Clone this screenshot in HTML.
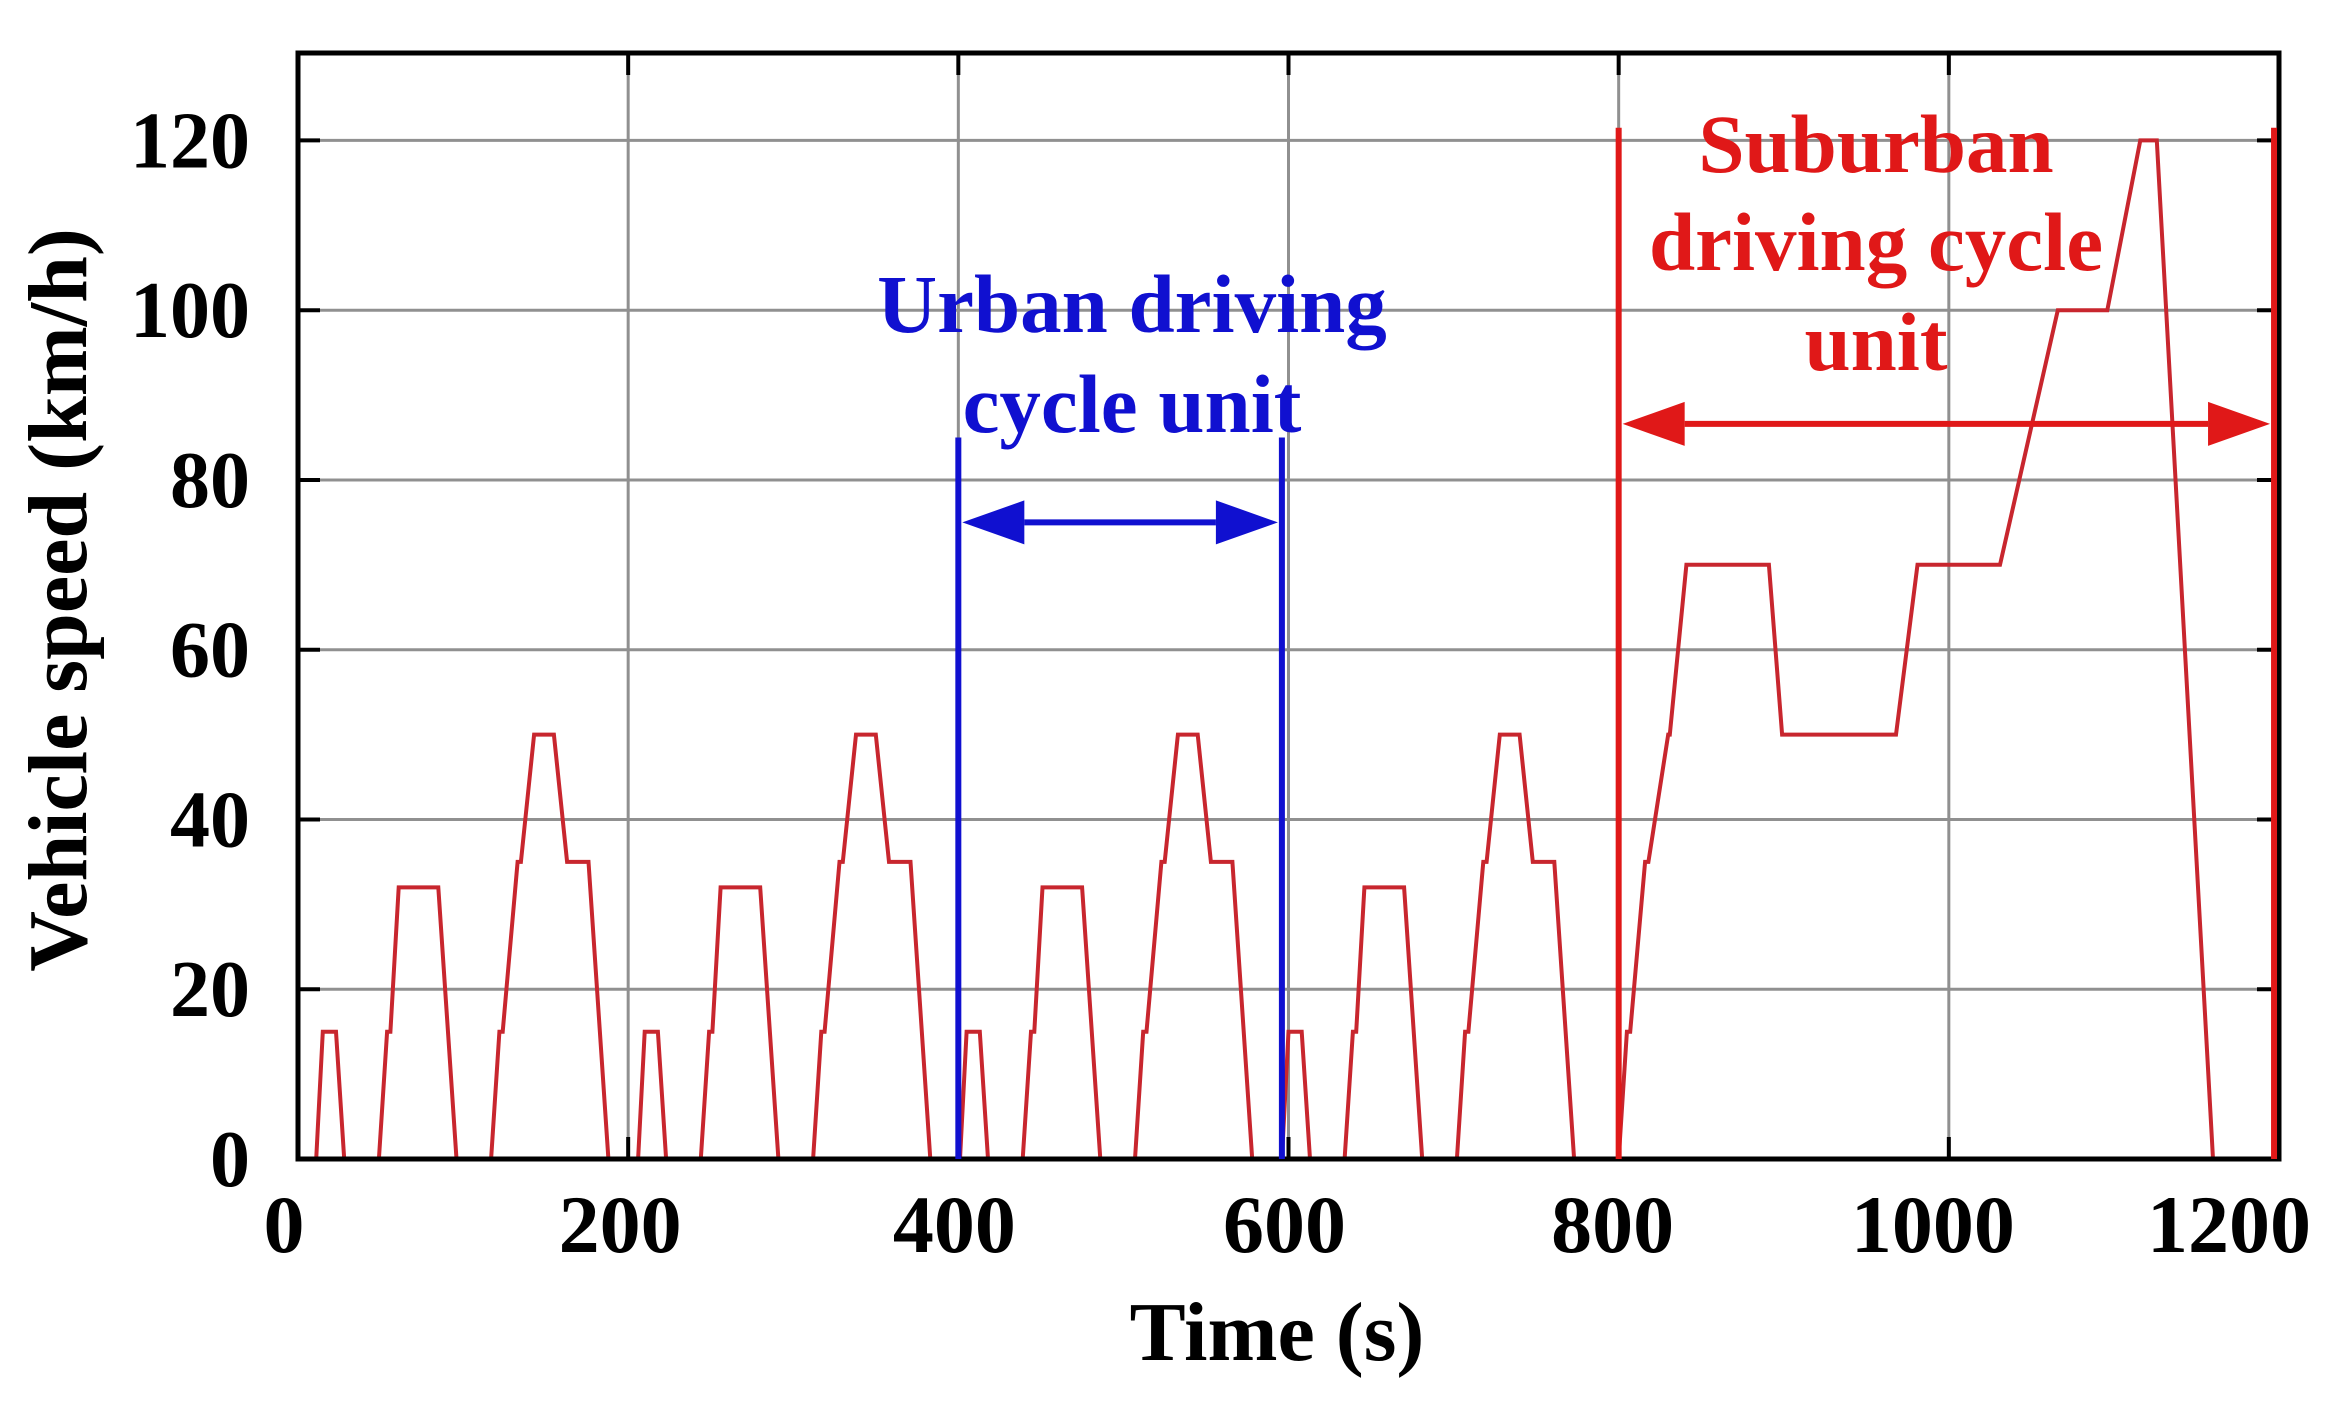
<!DOCTYPE html>
<html><head><meta charset="utf-8"><style>
html,body{margin:0;padding:0;background:#fff;}
svg{display:block;font-family:"Liberation Serif",serif;font-weight:bold;}
</style></head><body>
<svg width="2344" height="1423" viewBox="0 0 2344 1423">
<g id="grid"></g>
<g id="series"></g>
<g id="frame"></g>
<g id="ann"></g>
<g id="labels"></g>
</svg>
<script>
const xTicks=[0,200,400,600,800,1000,1200];
const yTicks=[0,20,40,60,80,100,120];
const urbanT=[0,11,15,23,28,49,54,56,61,85,96,117,122,124,133,135,143,155,163,176,188,195];
const urbanV=[0,0,15,15,0,0,15,15,32,32,0,0,15,15,35,35,50,50,35,35,0,0];
const urbanStarts=[0,195,390,585];
const suburbT=[0,20,25,27,36,38,50,51,61,111,119,188,201,251,286,316,336,346,380,400];
const suburbV=[0,0,15,15,35,35,50,50,70,70,50,50,70,70,100,100,120,120,0,0];
const suburbStart=780;
const L=298,R=2279,T=53,B=1159,XMAX=1200,YMAX=130.3;
const X=v=>L+(R-L)*v/XMAX;
const Y=v=>B-(B-T)*v/YMAX;
const NS='http://www.w3.org/2000/svg';
function mk(tag,attrs,parent){const e=document.createElementNS(NS,tag);for(const k in attrs)e.setAttribute(k,attrs[k]);document.getElementById(parent).appendChild(e);return e;}
xTicks.forEach((t,i)=>{
 if(t>0&&t<XMAX){const g=mk('line',{x1:X(t),x2:X(t),y1:T,y2:B,stroke:'#909090','stroke-width':3},'grid');
 
 }
 const tk=mk('line',{x1:X(t),x2:X(t),y1:B,y2:B-22,stroke:'#000','stroke-width':4},'frame');
 
 
 const tk2=mk('line',{x1:X(t),x2:X(t),y1:T,y2:T+22,stroke:'#000','stroke-width':4},'frame');
 
 
 const off=[-14,-8,-4,-4,-6,-16,-50][i];
 const lb=mk('text',{x:X(t)+off,y:1252,'text-anchor':'middle','font-size':82},'labels');
 lb.textContent=t;
 
 
});
yTicks.forEach(t=>{
 if(t>0){const g=mk('line',{x1:L,x2:R,y1:Y(t),y2:Y(t),stroke:'#909090','stroke-width':3},'grid');
 
 }
 const tk=mk('line',{x1:L,x2:L+22,y1:Y(t),y2:Y(t),stroke:'#000','stroke-width':4},'frame');
 
 
 const tk2=mk('line',{x1:R,x2:R-22,y1:Y(t),y2:Y(t),stroke:'#000','stroke-width':4},'frame');
 
 
 const lb=mk('text',{x:250,y:Y(t)+27,'text-anchor':'end','font-size':80},'labels');
 lb.textContent=t;
 
 
});
const fr=mk('rect',{x:L,y:T,width:R-L,height:B-T,fill:'none',stroke:'#000','stroke-width':5},'frame');


let pts=[];
urbanStarts.forEach(s=>urbanT.forEach((t,i)=>pts.push([s+t,urbanV[i]])));
suburbT.forEach((t,i)=>pts.push([suburbStart+t,suburbV[i]]));
const d=pts.map((p,i)=>(i?'L':'M')+X(p[0]).toFixed(1)+' '+Y(p[1]).toFixed(1)).join(' ');
const ln=mk('path',{d:d,fill:'none',stroke:'#c8262e','stroke-width':4,'stroke-linejoin':'miter'},'series');


function vline(x,y0,c,name){const e=mk('line',{x1:X(x),x2:X(x),y1:Y(0),y2:Y(y0),stroke:c,'stroke-width':6},'ann');
 
 }
function arrow(x0,x1,yv,c,name){
 const a=X(x0)+4,b=X(x1)-4,y=Y(yv),hl=62,hh=22;
 const e=mk('path',{d:`M${a+hl} ${y}L${b-hl} ${y}`,stroke:c,'stroke-width':6,fill:'none'},'ann');
 
 
 const h=mk('path',{d:`M${a} ${y}L${a+hl} ${y-hh}L${a+hl} ${y+hh}Z M${b} ${y}L${b-hl} ${y-hh}L${b-hl} ${y+hh}Z`,fill:c},'ann');
 
 }
vline(400,85,'#1010d0','urban-unit-start-line');
vline(596,85,'#1010d0','urban-unit-end-line');
arrow(400,596,75,'#1010d0','urban-unit-arrow');
vline(800,121.5,'#e01818','suburban-unit-start-line');
vline(1197,121.5,'#e01818','suburban-unit-end-line');
arrow(800,1197,86.6,'#e01818','suburban-unit-arrow');
function txt(x,y,s,c,name){const e=mk('text',{x:x,y:y,'text-anchor':'middle','font-size':83,fill:c},'ann');e.textContent=s;
 
 }
txt(1132,332,'Urban driving','#1010d0','urban-label-line1');
txt(1132,432,'cycle unit','#1010d0','urban-label-line2');
txt(1876,172,'Suburban','#e01818','suburban-label-line1');
txt(1876,270,'driving cycle','#e01818','suburban-label-line2');
txt(1876,370,'unit','#e01818','suburban-label-line3');
const xt=mk('text',{x:1277,y:1360,'text-anchor':'middle','font-size':84},'labels');xt.textContent='Time (s)';


const yt=mk('text',{x:0,y:0,'text-anchor':'middle','font-size':84,transform:'translate(86,600) rotate(-90)'},'labels');yt.textContent='Vehicle speed (km/h)';


</script>
</body></html>
